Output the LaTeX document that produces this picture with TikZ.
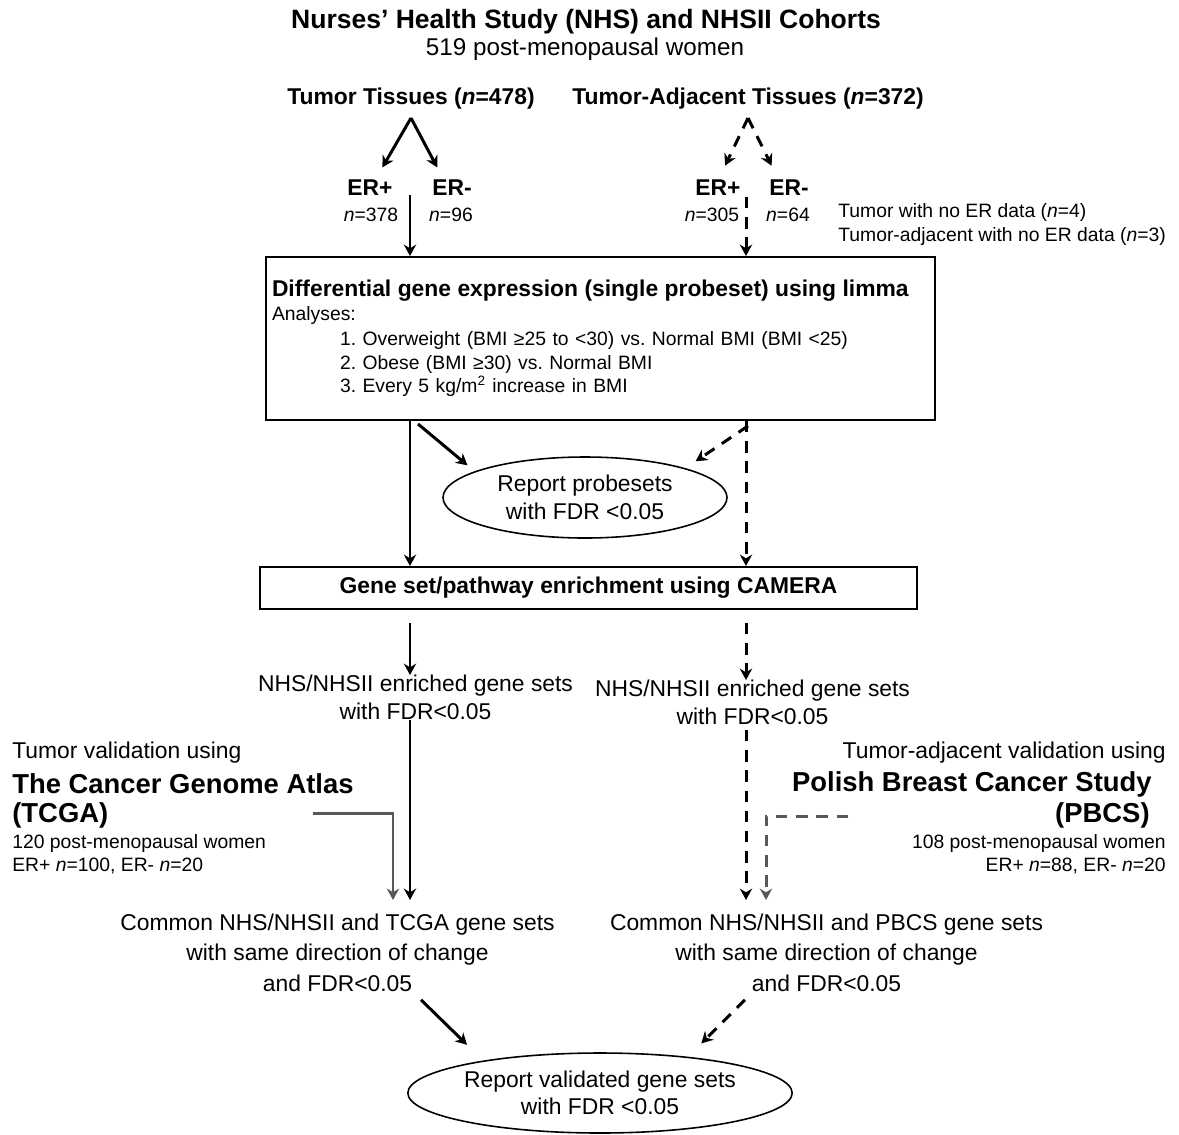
\documentclass[tikz,border=0pt]{standalone}
\usepackage{fontspec}
\setmainfont{Liberation Sans}
\usepackage{tikz}
\usetikzlibrary{arrows.meta,positioning,shapes.geometric}
\definecolor{fcGray}{HTML}{585858}

\begin{document}
\frenchspacing
\begin{tikzpicture}[
    x=2cm,y=-2cm,
    txt/.style={font=\fontsize{13}{15.6}\selectfont,align=center,inner sep=0pt},
    hd/.style={font=\fontsize{13}{15.6}\selectfont\bfseries,inner sep=0pt},
    big/.style={font=\fontsize{15.6}{18}\selectfont\bfseries,inner sep=0pt},
    sm/.style={font=\fontsize{11}{13.2}\selectfont,inner sep=0pt},
    box/.style={draw,line width=1.1pt,inner sep=0pt,
                font=\fontsize{11}{13.4}\selectfont},
    oval/.style={ellipse,draw,line width=0.9pt,align=center,inner sep=0pt,
                 font=\fontsize{13}{15.6}\selectfont},
    ar/.style={-{Stealth[length=6.5pt,width=7pt]},line width=1.7pt},
    dar/.style={ar,dash pattern=on 6.5pt off 5pt},
    gar/.style={ar,draw=fcGray},
    gdar/.style={dar,draw=fcGray}
  ]
    \useasboundingbox (0,0) rectangle (11.79,11.34);

    % cohort and tissues
    \node[big,font=\fontsize{15.1}{18}\selectfont\bfseries] (title) at (5.86,0.22) {Nurses’ Health Study (NHS) and NHSII Cohorts};
    \node[txt,font=\fontsize{13.8}{16}\selectfont] (cohort) at (5.85,0.49) {519 post-menopausal women};
    \node[hd] (tumor) at (4.11,0.99) {Tumor Tissues (\textit{n}=478)};
    \node[hd] (adj)   at (7.48,0.99) {Tumor-Adjacent Tissues (\textit{n}=372)};

    \node[hd] (erp)  at (3.70,1.88) {ER+};
    \node[hd] (erm)  at (4.52,1.88) {ER-};
    \node[hd] (erp2) at (7.18,1.88) {ER+};
    \node[hd] (erm2) at (7.89,1.88) {ER-};
    \node[sm] (np)   at (3.71,2.15) {\textit{n}=378};
    \node[sm] (nm)   at (4.51,2.15) {\textit{n}=96};
    \node[sm] (np2)  at (7.12,2.15) {\textit{n}=305};
    \node[sm] (nm2)  at (7.88,2.15) {\textit{n}=64};
    \node[sm,anchor=west] (note1) at (8.38,2.12) {Tumor with no ER data (\textit{n}=4)};
    \node[sm,anchor=west] (note2) at (8.38,2.36) {Tumor-adjacent with no ER data (\textit{n}=3)};

    \coordinate (tl) at (4.10,1.95);
    \coordinate (al) at (7.46,1.97);

    % analysis boxes
    \node[box,minimum width=13.38cm,minimum height=3.26cm,inner xsep=3.4pt,text width=13.14cm,align=left] (lim) at (6.005,3.385)
      {{\fontsize{13}{13.4}\selectfont\bfseries Differential gene expression (single probeset) using limma}\\
       Analyses:\\[1pt]
       \hspace*{1.36cm}1. Overweight (BMI ≥25 to <30) vs. Normal BMI (BMI <25)\\
       \hspace*{1.36cm}2. Obese (BMI ≥30) vs. Normal BMI\\
       \hspace*{1.36cm}3. Every 5 kg/m\textsuperscript{2} increase in BMI};
    \node[oval,minimum width=5.68cm,minimum height=1.62cm] (prob) at (5.85,4.975)
      {Report probesets\\with FDR <0.05};
    \node[box,minimum width=13.14cm,minimum height=0.84cm,font=\fontsize{13}{15.6}\selectfont\bfseries] (cam) at (5.885,5.88)
      {Gene set/pathway enrichment using CAMERA};

    \node[txt] (enr1) at (4.155,6.975) {NHS/NHSII enriched gene sets\\with FDR<0.05};
    \node[txt] (enr2) at (7.525,7.025) {NHS/NHSII enriched gene sets\\with FDR<0.05};

    % validation sets
    \node[txt,anchor=west] (tval)  at (0.12,7.53) {Tumor validation using};
    \node[big,anchor=west] (tcga)  at (0.12,7.84) {The Cancer Genome Atlas};
    \node[big,anchor=west] (tcgab) at (0.12,8.15) {(TCGA)};
    \node[sm,anchor=west]  (tcgan) at (0.12,8.43) {120 post-menopausal women};
    \node[sm,anchor=west]  (tcgae) at (0.12,8.66) {ER+ \textit{n}=100, ER- \textit{n}=20};

    \node[txt,anchor=east] (aval)  at (11.66,7.53) {Tumor-adjacent validation using};
    \node[big,anchor=east] (pbcs)  at (11.52,7.84) {Polish Breast Cancer Study};
    \node[big,anchor=east] (pbcsb) at (11.50,8.15) {(PBCS)};
    \node[sm,anchor=east]  (pbcsn) at (11.66,8.43) {108 post-menopausal women};
    \node[sm,anchor=east]  (pbcse) at (11.66,8.66) {ER+ \textit{n}=88, ER- \textit{n}=20};

    \coordinate (tcgaout) at (3.13,8.13);
    \coordinate (pbcsout) at (8.48,8.16);
    \coordinate (tin) at (3.93,9.00);
    \coordinate (ain) at (7.66,9.00);

    \node[txt] (com1) at (3.375,9.525) {Common NHS/NHSII and TCGA gene sets\\[1.8pt]with same direction of change\\[1.8pt]and FDR<0.05};
    \node[txt] (com2) at (8.265,9.525) {Common NHS/NHSII and PBCS gene sets\\[1.8pt]with same direction of change\\[1.8pt]and FDR<0.05};
    \node[oval,minimum width=7.08cm,minimum height=1.6cm] (fin) at (6.00,10.93)
      {Report validated gene sets\\with FDR <0.05};

    % connectors
    \draw[ar]  (tumor.south) ++(0,0.08) -- ([xshift=-6pt,yshift=7pt]erp.north east);
    \draw[ar]  (tumor.south) ++(0,0.08) -- ([xshift=3pt,yshift=7pt]erm.north west);
    \draw[dar] (adj.south) ++(0,0.08) -- ([xshift=-9pt,yshift=8pt]erp2.north east);
    \draw[dar] (adj.south) ++(0,0.08) -- ([xshift=1.5pt,yshift=8pt]erm2.north west);
    \draw[ar]  (tl) -- (tl |- lim.north);
    \draw[dar] (al) -- (al |- lim.north);

    \draw[ar]  (lim.south -| tl) -- (cam.north -| tl);
    \draw[dar] (lim.south -| al) -- (cam.north -| al);
    \draw[ar]  (lim.south -| tl) ++(0.08,0.03) -- ([xshift=-9.4pt,yshift=1.7pt]prob.north west);
    \draw[dar] (lim.south -| al) ++(0.02,0.05) -- ([xshift=5.5pt,yshift=4pt]prob.north east);

    \draw[ar]  (cam.south -| tl) ++(0,0.13) -- (enr1.north -| tl);
    \draw[dar] (cam.south -| al) ++(0,0.13) -- (enr2.north -| al);
    \draw[ar]  (enr1.south -| tl) -- (tl |- tin);
    \draw[dar] (enr2.south -| al) ++(0,0.05) -- (al |- ain);
    \draw[gar]  (tcgaout) -| (tin);
    \draw[gdar] (pbcsout) -| (ain);

    \draw[ar]  (com1.south) ++(0.835,0.08) -- ([xshift=2pt,yshift=11pt]fin.north west);
    \draw[dar] (com2.south) ++(-0.815,0.08) -- ([xshift=-20pt,yshift=11.8pt]fin.north east);
  \end{tikzpicture}
\end{document}
